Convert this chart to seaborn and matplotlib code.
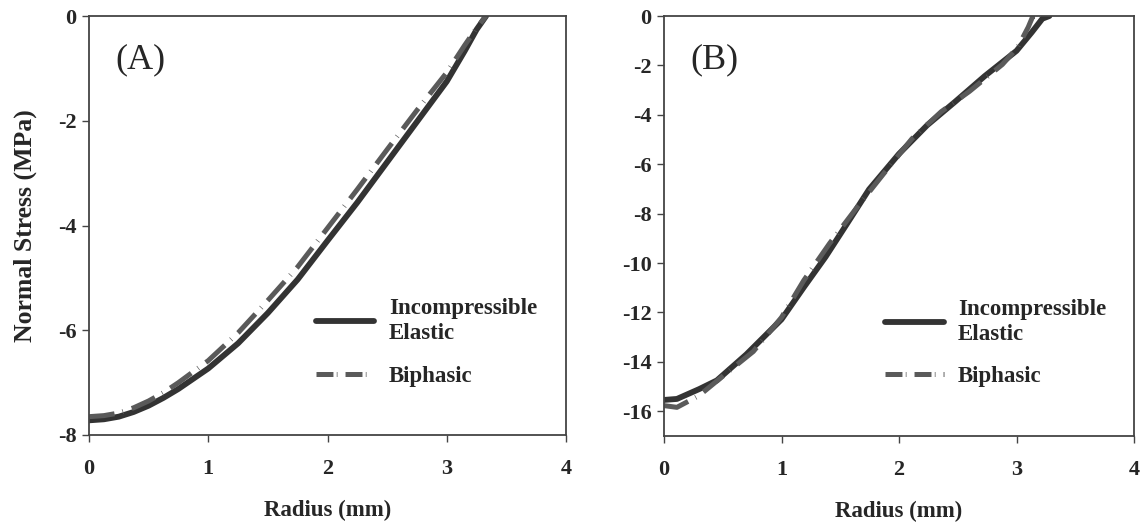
import matplotlib
matplotlib.use("Agg")
import matplotlib.pyplot as plt
import seaborn as sns
import pandas as pd
from matplotlib.lines import Line2D

# Panel A: normal stress profile along the radius
radius_a_elastic = [0.0, 0.125, 0.25, 0.375, 0.5, 0.625, 0.75, 1.0, 1.25, 1.5, 1.75, 2.0, 2.25, 2.5, 2.75, 3.0, 3.15, 3.25, 3.33]
stress_a_elastic = [-7.72, -7.70, -7.65, -7.56, -7.44, -7.29, -7.12, -6.73, -6.25, -5.67, -5.03, -4.29, -3.56, -2.79, -2.02, -1.25, -0.67, -0.26, 0.0]
radius_a_biphasic = [0.0, 0.125, 0.25, 0.375, 0.5, 0.625, 0.75, 1.0, 1.25, 1.5, 1.75, 2.0, 2.25, 2.5, 2.75, 3.0, 3.15, 3.25, 3.33]
stress_a_biphasic = [-7.65, -7.63, -7.58, -7.48, -7.35, -7.19, -7.0, -6.58, -6.05, -5.43, -4.79, -4.05, -3.31, -2.55, -1.8, -1.08, -0.56, -0.23, 0.0]

# Panel B
radius_b_elastic = [0.0, 0.11, 0.3, 0.45, 0.7, 1.0, 1.19, 1.375, 1.56, 1.745, 2.0, 2.24, 2.48, 2.73, 3.0, 3.13, 3.22, 3.28]
stress_b_elastic = [-15.54, -15.5, -15.1, -14.75, -13.7, -12.28, -10.98, -9.75, -8.39, -7.02, -5.58, -4.42, -3.46, -2.43, -1.41, -0.66, -0.11, 0.0]
radius_b_biphasic = [0.0, 0.11, 0.3, 0.51, 0.76, 1.0, 1.19, 1.41, 1.65, 1.9, 2.11, 2.36, 2.6, 2.88, 3.01, 3.1, 3.14, 3.17]
stress_b_biphasic = [-15.77, -15.84, -15.36, -14.54, -13.58, -12.2, -10.7, -9.2, -7.7, -6.2, -4.97, -3.87, -3.05, -1.96, -1.27, -0.45, 0.0, 0.0]

series_labels = ["Incompressible\nElastic", "Biphasic"]
panel_labels = ["(A)", "(B)"]
x_ticks = [0, 1, 2, 3, 4]
y_ticks_a = [0, -2, -4, -6, -8]
y_ticks_b = [0, -2, -4, -6, -8, -10, -12, -14, -16]

sns.set_theme(style="white")
plt.rcParams["font.family"] = ["Liberation Serif", "DejaVu Serif"]
plt.rcParams["lines.scale_dashes"] = False

solid_color = "#333333"
dash_color = "#5a5a5a"
curve_dashes = (0, (18.5, 6.0, 0.5, 6.5))
legend_dashes = (0, (12.2, 2.4, 0.5, 5.8))

fig = plt.figure(figsize=(11.47, 5.29), dpi=100)
ax_a = fig.add_axes([89 / 1147, 1 - 435 / 529, 477 / 1147, 419 / 529])
ax_b = fig.add_axes([664 / 1147, 1 - 436 / 529, 470 / 1147, 420 / 529])


def draw_panel(ax, rx_e, sy_e, rx_b, sy_b, ylim, yticks, tag, show_ylabel, leg_x):
    df_e = pd.DataFrame({"Radius": rx_e, "Stress": sy_e})
    df_b = pd.DataFrame({"Radius": rx_b, "Stress": sy_b})
    sns.lineplot(data=df_e, x="Radius", y="Stress", ax=ax, color=solid_color,
                 linewidth=4.2, sort=False, estimator=None)
    sns.lineplot(data=df_b, x="Radius", y="Stress", ax=ax, color=dash_color,
                 linewidth=3.6, sort=False, estimator=None, linestyle=curve_dashes)
    ax.set_xlim(0, 4)
    ax.set_ylim(*ylim)
    ax.set_xticks(x_ticks)
    ax.set_yticks(yticks)
    ax.set_xticklabels([str(t) for t in x_ticks], fontsize=16, fontweight="bold")
    ax.set_yticklabels([str(t) for t in yticks], fontsize=16, fontweight="bold")
    ax.tick_params(axis="both", direction="out", length=5, width=1, color="#444444",
                   bottom=True, left=True, top=False, right=False)
    ax.tick_params(axis="x", pad=12)
    ax.tick_params(axis="y", pad=4)
    for sp in ax.spines.values():
        sp.set_color("#444444")
        sp.set_linewidth(1.3)
        sp.set_visible(True)
    ax.set_xlabel("Radius (mm)", fontsize=16.5, fontweight="bold")
    ax.xaxis.set_label_coords(0.5, -0.155)
    if show_ylabel:
        ax.set_ylabel("Normal Stress (MPa)", fontsize=18.5, fontweight="bold")
        ax.yaxis.set_label_coords(-0.11, 0.5)
    else:
        ax.set_ylabel("")
    ax.text(0.108, 0.895, tag, transform=ax.transAxes, fontsize=26,
            ha="center", va="center")
    handles = [
        Line2D([], [], color=solid_color, linewidth=4.2),
        Line2D([], [], color=dash_color, linewidth=3.6, linestyle=legend_dashes),
    ]
    leg = ax.legend(handles, series_labels, loc="upper left", bbox_to_anchor=(leg_x, 0.327),
                    frameon=False, borderpad=0, borderaxespad=0, handlelength=2.55,
                    handletextpad=0.62, labelspacing=0.95,
                    prop={"family": ["Liberation Serif"], "weight": "bold", "size": 16.5})
    for t in leg.get_texts():
        t.set_linespacing(1.25)


draw_panel(ax_a, radius_a_elastic, stress_a_elastic, radius_a_biphasic, stress_a_biphasic,
           (-8, 0), y_ticks_a, panel_labels[0], True, 0.476)
draw_panel(ax_b, radius_b_elastic, stress_b_elastic, radius_b_biphasic, stress_b_biphasic,
           (-17, 0), y_ticks_b, panel_labels[1], False, 0.471)

fig.savefig("out.png", dpi=100, facecolor="white")
